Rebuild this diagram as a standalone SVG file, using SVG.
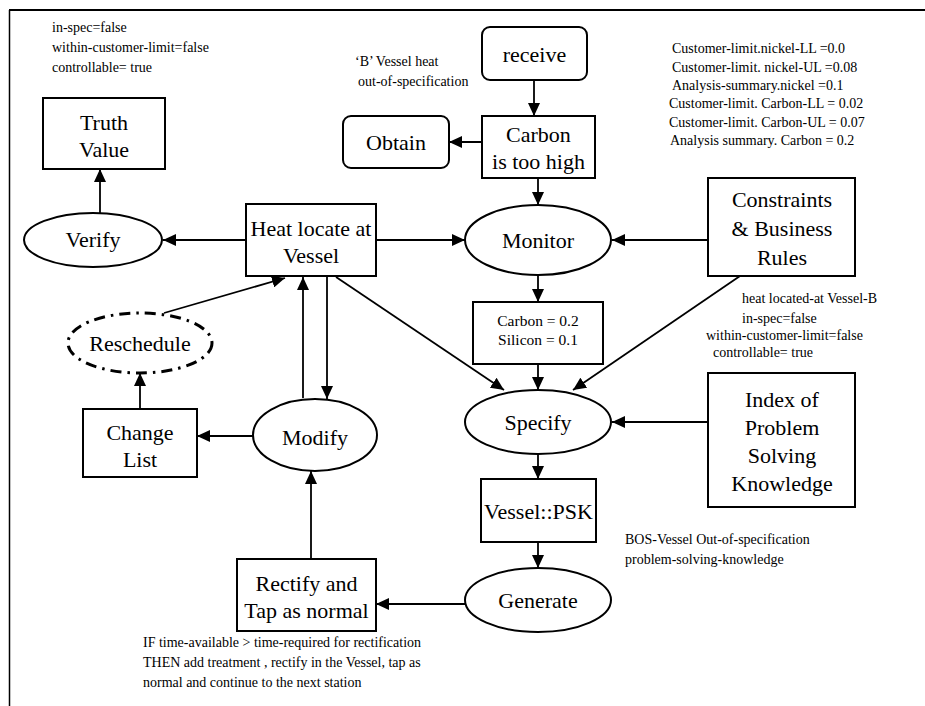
<svg xmlns="http://www.w3.org/2000/svg" width="925" height="706" viewBox="0 0 925 706">
<defs>
<marker id="ah" markerUnits="userSpaceOnUse" markerWidth="13" markerHeight="12" refX="13" refY="6" orient="auto">
<path d="M0,0 L13,6 L0,12 z" fill="#000"/>
</marker>
<style>
.box{fill:#fff;stroke:#000;stroke-width:2}
.lbl{font-family:"Liberation Serif","Times New Roman",serif;font-size:22px;fill:#000;text-anchor:middle}
.sm{font-family:"Liberation Serif","Times New Roman",serif;font-size:14px;fill:#000}
.mid{font-family:"Liberation Serif","Times New Roman",serif;font-size:15.5px;fill:#000;text-anchor:middle}
.con{fill:none;stroke:#000;stroke-width:1.8;marker-end:url(#ah)}
</style>
</defs>
<rect width="925" height="706" fill="#fff"/>
<g id="frame">
<line x1="9" y1="10" x2="925" y2="10" stroke="#000" stroke-width="2"/>
<line x1="9.5" y1="10" x2="9.5" y2="706" stroke="#000" stroke-width="1.5"/>
</g>
<g id="connectors">
<line class="con" x1="534" y1="80" x2="534" y2="116"/>
<line class="con" x1="482" y1="142" x2="449" y2="142"/>
<line class="con" x1="538" y1="178" x2="538" y2="205"/>
<line class="con" x1="708" y1="240" x2="612" y2="240"/>
<line class="con" x1="376" y1="240" x2="465" y2="240"/>
<line class="con" x1="246" y1="240" x2="163" y2="240"/>
<line class="con" x1="100" y1="213" x2="100" y2="169"/>
<line class="con" x1="538" y1="275" x2="538" y2="302"/>
<line class="con" x1="538" y1="364" x2="538" y2="390"/>
<line class="con" x1="336" y1="277" x2="504" y2="390"/>
<line class="con" x1="740" y1="276" x2="573" y2="390"/>
<line class="con" x1="708" y1="422" x2="612" y2="422"/>
<line class="con" x1="538" y1="454" x2="538" y2="479"/>
<line class="con" x1="538" y1="542" x2="538" y2="568"/>
<line class="con" x1="465" y1="604" x2="376" y2="604"/>
<line class="con" x1="311" y1="559" x2="311" y2="471"/>
<line class="con" x1="303" y1="398" x2="303" y2="277"/>
<line class="con" x1="327" y1="277" x2="327" y2="399"/>
<line class="con" x1="254" y1="436" x2="197" y2="436"/>
<line class="con" x1="140" y1="409" x2="140" y2="373"/>
<line class="con" x1="164" y1="313" x2="285" y2="278"/>
</g>
<g id="note-topleft">
<text class="sm" x="52" y="32">in-spec=false</text>
<text class="sm" x="52" y="52">within-customer-limit=false</text>
<text class="sm" x="52" y="72">controllable= true</text>
</g>
<g id="note-bvessel">
<text class="sm" x="355" y="66">‘B’ Vessel heat</text>
<text class="sm" x="358" y="86">out-of-specification</text>
</g>
<g id="note-limits">
<text class="sm" x="672" y="53">Customer-limit.nickel-LL =0.0</text>
<text class="sm" x="672" y="72">Customer-limit. nickel-UL =0.08</text>
<text class="sm" x="672" y="90">Analysis-summary.nickel =0.1</text>
<text class="sm" x="669" y="108">Customer-limit. Carbon-LL = 0.02</text>
<text class="sm" x="669" y="127">Customer-limit. Carbon-UL = 0.07</text>
<text class="sm" x="670" y="145">Analysis summary. Carbon  = 0.2</text>
</g>
<g id="note-heat">
<text class="sm" x="742" y="303">heat located-at Vessel-B</text>
<text class="sm" x="742" y="323">in-spec=false</text>
<text class="sm" x="706" y="340">within-customer-limit=false</text>
<text class="sm" x="713" y="357">controllable= true</text>
</g>
<g id="note-bos">
<text class="sm" x="625" y="544">BOS-Vessel Out-of-specification</text>
<text class="sm" x="625" y="564">problem-solving-knowledge</text>
</g>
<g id="note-rule">
<text class="sm" x="143" y="647">IF time-available &gt; time-required for rectification</text>
<text class="sm" x="143" y="667">THEN add treatment , rectify in the Vessel, tap as</text>
<text class="sm" x="143" y="687">normal and continue to the next station</text>
</g>
<g id="truth-value">
<rect class="box" x="43" y="98" width="122" height="71"/>
<text class="lbl" x="104" y="130">Truth</text>
<text class="lbl" x="104" y="157">Value</text>
</g>
<g id="receive">
<rect class="box" x="482" y="27" width="105" height="53" rx="8"/>
<text class="lbl" x="534.5" y="62">receive</text>
</g>
<g id="obtain">
<rect class="box" x="343" y="116" width="106" height="52" rx="8"/>
<text class="lbl" x="396" y="150">Obtain</text>
</g>
<g id="carbon-high">
<rect class="box" x="482" y="116" width="113" height="62"/>
<text class="lbl" x="538.5" y="142">Carbon</text>
<text class="lbl" x="538.5" y="169">is too high</text>
</g>
<g id="verify">
<ellipse class="box" cx="93" cy="240" rx="69" ry="27"/>
<text class="lbl" x="93" y="247">Verify</text>
</g>
<g id="heat-locate">
<rect class="box" x="246" y="204" width="130" height="72"/>
<text class="lbl" x="311" y="236">Heat locate at</text>
<text class="lbl" x="311" y="263">Vessel</text>
</g>
<g id="monitor">
<ellipse class="box" cx="538" cy="240" rx="73" ry="35"/>
<text class="lbl" x="538" y="248">Monitor</text>
</g>
<g id="constraints">
<rect class="box" x="708" y="178" width="147" height="98"/>
<text class="lbl" x="782" y="207">Constraints</text>
<text class="lbl" x="782" y="236">&amp; Business</text>
<text class="lbl" x="782" y="265">Rules</text>
</g>
<g id="carbon-values">
<rect class="box" x="473" y="302" width="130" height="62"/>
<text class="mid" x="538" y="326">Carbon = 0.2</text>
<text class="mid" x="538" y="345">Silicon = 0.1</text>
</g>
<g id="reschedule">
<ellipse cx="140" cy="343" rx="72" ry="30" fill="#fff" stroke="#000" stroke-width="3" stroke-dasharray="11 6 2.5 6"/>
<text class="lbl" x="140" y="351">Reschedule</text>
</g>
<g id="change-list">
<rect class="box" x="83" y="409" width="114" height="68"/>
<text class="lbl" x="140" y="440">Change</text>
<text class="lbl" x="140" y="467">List</text>
</g>
<g id="modify">
<ellipse class="box" cx="315" cy="435" rx="62" ry="36"/>
<text class="lbl" x="315" y="445">Modify</text>
</g>
<g id="specify">
<ellipse class="box" cx="538" cy="422" rx="73" ry="32"/>
<text class="lbl" x="538" y="430">Specify</text>
</g>
<g id="index-psk">
<rect class="box" x="708" y="373" width="147" height="134"/>
<text class="lbl" x="782" y="407">Index of</text>
<text class="lbl" x="782" y="435">Problem</text>
<text class="lbl" x="782" y="463">Solving</text>
<text class="lbl" x="782" y="491">Knowledge</text>
</g>
<g id="vessel-psk">
<rect class="box" x="481" y="479" width="115" height="63"/>
<text class="lbl" x="538.5" y="519">Vessel::PSK</text>
</g>
<g id="generate">
<ellipse class="box" cx="538" cy="600" rx="73" ry="32"/>
<text class="lbl" x="538" y="608">Generate</text>
</g>
<g id="rectify">
<rect class="box" x="237" y="559" width="139" height="72"/>
<text class="lbl" x="306.5" y="591">Rectify and</text>
<text class="lbl" x="306.5" y="618">Tap as normal</text>
</g>
</svg>
